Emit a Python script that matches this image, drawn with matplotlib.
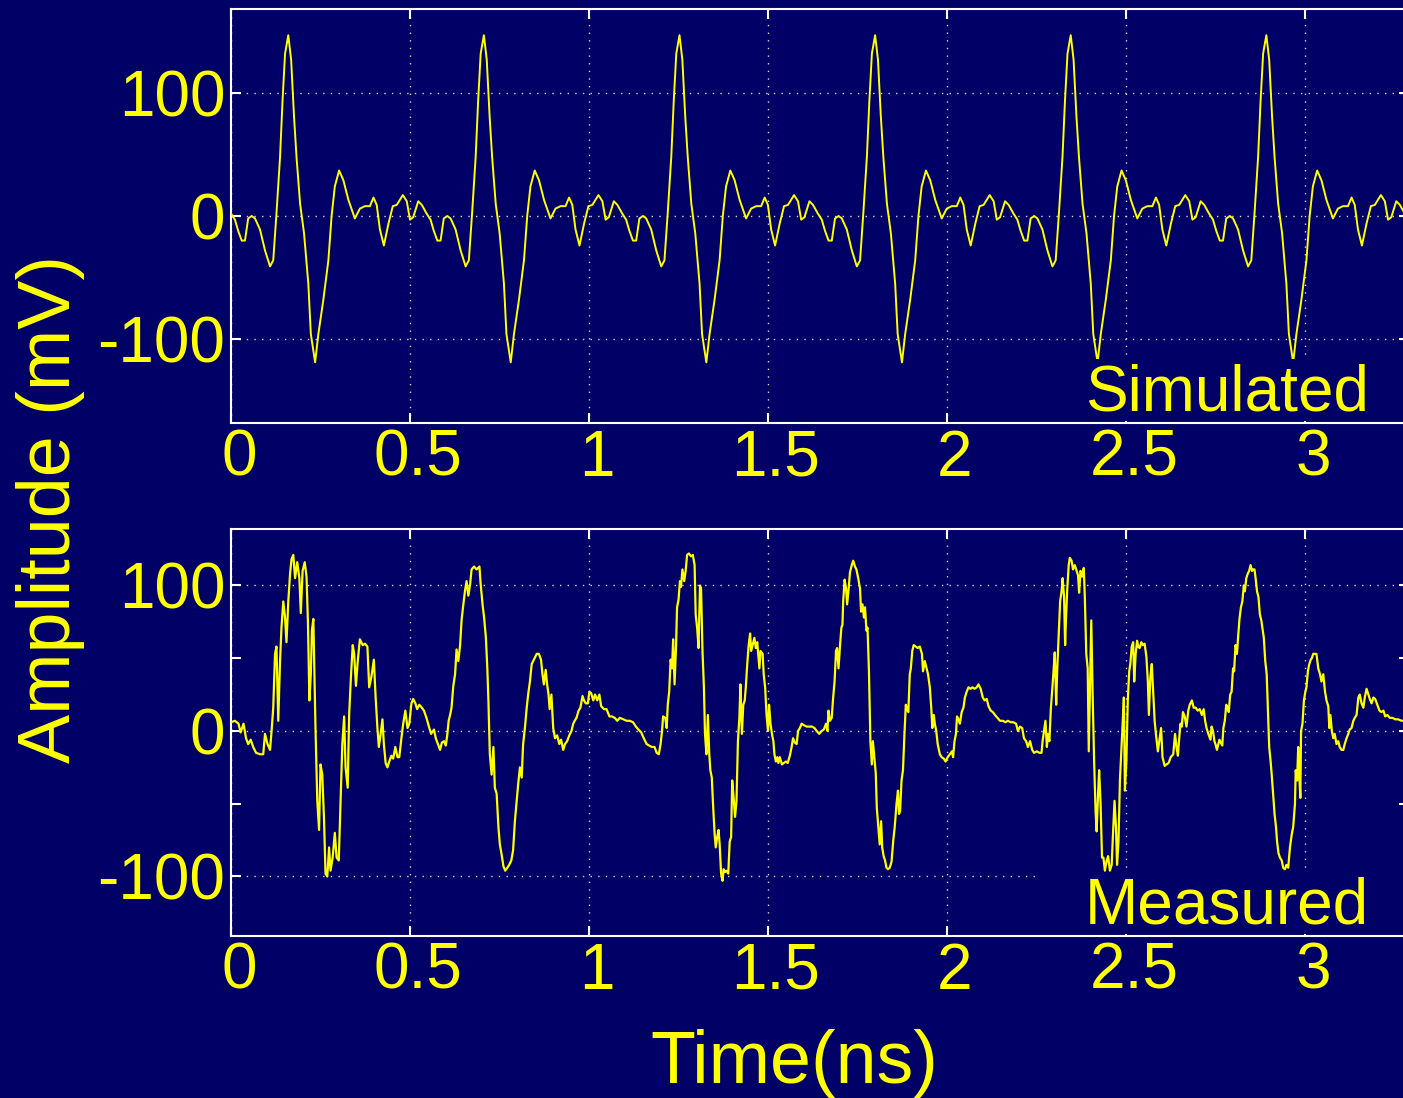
import numpy as np
import matplotlib
matplotlib.use("Agg")
import matplotlib.pyplot as plt
from matplotlib.transforms import ScaledTranslation
from matplotlib.patches import Rectangle

plt.rcParams['font.family'] = ['Liberation Sans', 'DejaVu Sans']

# ---------------- data ----------------
# Simulated: one period of the waveform (ns, mV), repeated with this period
sim_period = 0.5464
sim_cycle_t = [0.000, 0.011, 0.020, 0.030, 0.039, 0.048, 0.058, 0.067, 0.081, 0.095,
               0.109, 0.118, 0.127, 0.137, 0.144, 0.151, 0.160, 0.168, 0.176, 0.183,
               0.193, 0.204, 0.216, 0.223, 0.235, 0.244, 0.258, 0.272, 0.281, 0.290,
               0.302, 0.314, 0.328, 0.346, 0.360, 0.374, 0.388, 0.398, 0.407, 0.416,
               0.427, 0.440, 0.452, 0.463, 0.480, 0.491, 0.500, 0.509, 0.523, 0.533]
sim_cycle_v = [2, -3, -12, -20, -20, -2, 0, -2, -11, -28,
               -41, -36, 2, 48, 94, 132, 147, 127, 81, 48,
               10, -14, -55, -96, -119, -96, -68, -36, 0, 24,
               37, 29, 13, -2, 6, 8, 8, 15, 9, -11,
               -24, -6, 8, 9, 17, 12, -3, -1, 12, 9]

# Measured waveform (ns, mV)
meas_t = [0.000, 0.011, 0.021, 0.027, 0.035, 0.042, 0.048, 0.055, 0.062, 0.070,
          0.081, 0.090, 0.095, 0.102, 0.109, 0.114, 0.118, 0.123, 0.127, 0.132,
          0.137, 0.141, 0.146, 0.151, 0.155, 0.160, 0.165, 0.169, 0.174, 0.179,
          0.185, 0.191, 0.195, 0.200, 0.206, 0.211, 0.215, 0.219, 0.223, 0.226,
          0.230, 0.236, 0.241, 0.246, 0.250, 0.255, 0.260, 0.264, 0.269, 0.274,
          0.278, 0.284, 0.290, 0.295, 0.301, 0.306, 0.311, 0.316, 0.320, 0.326,
          0.330, 0.335, 0.340, 0.344, 0.349, 0.354, 0.360, 0.368, 0.374, 0.381,
          0.386, 0.392, 0.399, 0.404, 0.409, 0.413, 0.418, 0.423, 0.427, 0.432,
          0.437, 0.442, 0.448, 0.453, 0.459, 0.465, 0.470, 0.476, 0.481, 0.487,
          0.493, 0.498, 0.504, 0.509, 0.515, 0.520, 0.526, 0.533, 0.539, 0.546,
          0.554, 0.559, 0.567, 0.572, 0.578, 0.584, 0.589, 0.595, 0.600, 0.604,
          0.608, 0.612, 0.616, 0.621, 0.626, 0.630, 0.635, 0.640, 0.644, 0.649,
          0.654, 0.658, 0.663, 0.668, 0.672, 0.679, 0.686, 0.694, 0.697, 0.703,
          0.707, 0.712, 0.716, 0.719, 0.723, 0.728, 0.733, 0.737, 0.742, 0.747,
          0.751, 0.756, 0.761, 0.766, 0.772, 0.777, 0.783, 0.788, 0.793, 0.798,
          0.802, 0.807, 0.812, 0.816, 0.821, 0.826, 0.830, 0.835, 0.840, 0.846,
          0.854, 0.860, 0.866, 0.870, 0.874, 0.879, 0.883, 0.887, 0.890, 0.895,
          0.900, 0.905, 0.911, 0.917, 0.922, 0.928, 0.933, 0.939, 0.945, 0.951,
          0.956, 0.960, 0.965, 0.971, 0.976, 0.982, 0.986, 0.991, 0.997, 1.001,
          1.006, 1.012, 1.017, 1.023, 1.029, 1.034, 1.042, 1.049, 1.057, 1.064,
          1.072, 1.079, 1.086, 1.096, 1.105, 1.114, 1.123, 1.131, 1.138, 1.146,
          1.153, 1.161, 1.168, 1.175, 1.183, 1.189, 1.195, 1.200, 1.204, 1.207,
          1.213, 1.217, 1.220, 1.224, 1.228, 1.232, 1.235, 1.239, 1.243, 1.246,
          1.250, 1.254, 1.257, 1.261, 1.266, 1.270, 1.274, 1.279, 1.285, 1.290,
          1.295, 1.298, 1.302, 1.306, 1.310, 1.313, 1.317, 1.321, 1.324, 1.328,
          1.332, 1.336, 1.339, 1.343, 1.347, 1.351, 1.354, 1.358, 1.362, 1.365,
          1.369, 1.373, 1.376, 1.380, 1.384, 1.389, 1.393, 1.397, 1.400, 1.403,
          1.408, 1.412, 1.416, 1.420, 1.423, 1.427, 1.431, 1.435, 1.438, 1.442,
          1.446, 1.450, 1.453, 1.457, 1.462, 1.466, 1.470, 1.476, 1.479, 1.485,
          1.488, 1.492, 1.496, 1.500, 1.503, 1.507, 1.511, 1.515, 1.518, 1.522,
          1.526, 1.529, 1.533, 1.539, 1.544, 1.550, 1.555, 1.561, 1.566, 1.570,
          1.575, 1.580, 1.584, 1.589, 1.594, 1.600, 1.608, 1.615, 1.623, 1.630,
          1.636, 1.643, 1.650, 1.656, 1.662, 1.666, 1.669, 1.673, 1.678, 1.682,
          1.686, 1.690, 1.693, 1.697, 1.701, 1.705, 1.708, 1.710, 1.714, 1.718,
          1.721, 1.725, 1.729, 1.734, 1.738, 1.743, 1.747, 1.752, 1.757, 1.760,
          1.764, 1.768, 1.771, 1.775, 1.778, 1.782, 1.786, 1.790, 1.793, 1.797,
          1.801, 1.804, 1.808, 1.812, 1.816, 1.819, 1.823, 1.827, 1.831, 1.835,
          1.840, 1.845, 1.850, 1.854, 1.859, 1.863, 1.866, 1.869, 1.873, 1.877,
          1.881, 1.885, 1.888, 1.892, 1.896, 1.899, 1.903, 1.907, 1.913, 1.918,
          1.924, 1.930, 1.933, 1.938, 1.943, 1.947, 1.952, 1.956, 1.959, 1.963,
          1.966, 1.970, 1.974, 1.980, 1.985, 1.991, 1.996, 2.002, 2.008, 2.014,
          2.017, 2.021, 2.025, 2.028, 2.032, 2.036, 2.041, 2.046, 2.050, 2.055,
          2.060, 2.066, 2.071, 2.077, 2.083, 2.088, 2.094, 2.100, 2.105, 2.111,
          2.116, 2.122, 2.128, 2.134, 2.141, 2.148, 2.156, 2.163, 2.170, 2.178,
          2.185, 2.193, 2.198, 2.204, 2.210, 2.215, 2.221, 2.226, 2.232, 2.238,
          2.243, 2.251, 2.258, 2.264, 2.267, 2.271, 2.275, 2.279, 2.282, 2.286,
          2.290, 2.293, 2.297, 2.301, 2.305, 2.308, 2.312, 2.316, 2.320, 2.323,
          2.327, 2.330, 2.332, 2.336, 2.340, 2.343, 2.348, 2.352, 2.357, 2.362,
          2.366, 2.369, 2.373, 2.378, 2.382, 2.385, 2.389, 2.393, 2.396, 2.400,
          2.403, 2.407, 2.411, 2.415, 2.418, 2.422, 2.425, 2.429, 2.433, 2.437,
          2.441, 2.446, 2.450, 2.455, 2.460, 2.464, 2.468, 2.472, 2.475, 2.479,
          2.483, 2.486, 2.490, 2.494, 2.497, 2.501, 2.505, 2.509, 2.512, 2.516,
          2.520, 2.523, 2.527, 2.531, 2.534, 2.538, 2.543, 2.547, 2.552, 2.557,
          2.561, 2.564, 2.568, 2.572, 2.577, 2.580, 2.584, 2.589, 2.593, 2.598,
          2.602, 2.608, 2.613, 2.619, 2.625, 2.632, 2.637, 2.641, 2.645, 2.648,
          2.652, 2.656, 2.659, 2.664, 2.669, 2.674, 2.678, 2.684, 2.689, 2.695,
          2.700, 2.706, 2.712, 2.717, 2.721, 2.725, 2.730, 2.736, 2.739, 2.743,
          2.747, 2.751, 2.754, 2.758, 2.761, 2.765, 2.769, 2.772, 2.776, 2.780,
          2.784, 2.787, 2.791, 2.795, 2.799, 2.802, 2.806, 2.810, 2.813, 2.817,
          2.821, 2.825, 2.829, 2.832, 2.836, 2.840, 2.844, 2.848, 2.852, 2.855,
          2.859, 2.863, 2.866, 2.870, 2.874, 2.878, 2.881, 2.885, 2.889, 2.893,
          2.896, 2.900, 2.904, 2.907, 2.911, 2.915, 2.919, 2.922, 2.926, 2.930,
          2.935, 2.939, 2.944, 2.948, 2.953, 2.958, 2.963, 2.967, 2.972, 2.974,
          2.978, 2.981, 2.984, 2.987, 2.989, 2.993, 2.997, 3.001, 3.004, 3.008,
          3.012, 3.016, 3.019, 3.023, 3.028, 3.032, 3.037, 3.042, 3.046, 3.051,
          3.056, 3.060, 3.065, 3.068, 3.071, 3.075, 3.079, 3.083, 3.088, 3.093,
          3.097, 3.102, 3.107, 3.111, 3.116, 3.121, 3.125, 3.130, 3.135, 3.139,
          3.144, 3.149, 3.153, 3.158, 3.163, 3.167, 3.172, 3.177, 3.181, 3.186,
          3.191, 3.196, 3.202, 3.208, 3.213, 3.219, 3.224, 3.230, 3.237, 3.245,
          3.252, 3.260, 3.270, 3.290]
meas_v = [6, 7, 5, -1, 5, -5, -9, -6, -11, -15,
          -16, -16, -2, -9, -13, 2, 16, 53, 58, 7,
          48, 71, 89, 78, 61, 89, 108, 118, 121, 105,
          116, 105, 81, 110, 116, 106, 74, 21, 39, 69,
          77, 2, -48, -68, -23, -30, -62, -98, -100, -80,
          -96, -87, -70, -87, -89, -48, -9, 10, -25, -39,
          11, 37, 59, 53, 31, 48, 63, 59, 60, 58,
          30, 37, 49, 23, 2, -11, -2, 8, -9, -22,
          -25, -21, -17, -19, -11, -18, -18, -5, 5, 14,
          2, 5, 19, 22, 19, 15, 18, 16, 14, 9,
          2, -2, 1, -5, -9, -13, -8, -7, -10, -3,
          7, 11, 16, 31, 39, 56, 48, 59, 76, 87,
          97, 103, 93, 101, 111, 113, 111, 113, 102, 86,
          78, 64, 43, 21, -16, -30, -11, -39, -43, -66,
          -78, -85, -93, -96, -94, -92, -89, -82, -62, -48,
          -37, -25, -32, -9, 2, 16, 25, 34, 46, 49,
          53, 53, 49, 39, 32, 42, 32, 25, 15, 25,
          2, -5, -3, -9, -6, -13, -9, -7, -3, 0,
          5, 7, 9, 14, 16, 24, 21, 19, 19, 27,
          26, 21, 25, 21, 25, 17, 15, 15, 10, 10,
          9, 7, 9, 8, 7, 7, 6, 3, 1, -1,
          -5, -9, -10, -11, -11, -15, -16, -9, 0, 10,
          9, 2, 18, 27, 49, 43, 63, 32, 57, 85,
          90, 103, 99, 111, 103, 110, 121, 122, 120, 121,
          114, 80, 71, 57, 100, 98, 55, 30, -2, -16,
          11, -16, -27, -32, -53, -71, -80, -73, -68, -78,
          -98, -103, -95, -97, -96, -98, -76, -73, -34, -43,
          -59, -48, -7, 9, 32, -2, 18, 21, 30, 46,
          59, 67, 55, 59, 64, 57, 61, 43, 55, 53,
          39, 30, 11, 0, 18, 5, -2, -7, -16, -21,
          -18, -22, -18, -23, -22, -21, -22, -17, -11, -5,
          -8, -9, 0, 2, 5, 4, 3, 3, 3, 2,
          0, -2, 0, 1, 5, 0, 14, 7, 9, 23,
          34, 55, 57, 43, 58, 71, 73, 89, 104, 98,
          87, 97, 109, 114, 117, 113, 111, 105, 98, 82,
          87, 78, 85, 69, 71, 41, -7, -23, -7, -18,
          -29, -53, -66, -78, -62, -80, -86, -89, -94, -95,
          -94, -90, -75, -66, -50, -41, -57, -55, -34, -27,
          -3, 18, 15, 13, 39, 43, 55, 59, 58, 57,
          58, 53, 41, 48, 43, 39, 30, 16, 2, 11,
          5, 0, -9, -16, -18, -19, -21, -18, -16, -14,
          -18, -7, -2, 10, 8, 5, 13, 16, 23, 27,
          30, 29, 30, 29, 30, 32, 29, 23, 21, 22,
          17, 14, 13, 11, 9, 7, 7, 6, 7, 6,
          6, 5, 0, 3, 2, -5, -7, -11, -7, -13,
          -15, -14, -15, -15, -7, 0, 7, -11, -2, -7,
          15, 25, 39, 54, 18, 43, 66, 89, 96, 105,
          92, 59, 75, 98, 114, 119, 117, 111, 114, 110,
          107, 95, 110, 106, 112, 92, 53, 43, -14, 37,
          76, 23, -21, -55, -69, -43, -27, -50, -87, -87,
          -96, -89, -86, -96, -92, -69, -48, -66, -92, -76,
          -34, -18, 2, 23, -41, -21, 21, 41, 46, 58,
          61, 34, 53, 62, 58, 57, 61, 59, 60, 51,
          34, 11, 37, 46, 21, 7, -3, -14, -7, 2,
          -18, -24, -23, -22, -18, -16, -2, -11, -17, -7,
          5, 3, 13, 10, 3, 14, 18, 21, 16, 16,
          14, 15, 11, 15, 7, 2, -2, -6, 3, 0,
          -7, -10, -13, -9, -6, -8, -10, 2, 7, 18,
          16, 13, 25, 27, 43, 41, 59, 53, 64, 77,
          85, 89, 100, 96, 105, 108, 110, 114, 110, 111,
          111, 103, 96, 92, 80, 76, 71, 64, 48, 39,
          18, -11, -21, -30, -43, -57, -66, -76, -84, -87,
          -89, -94, -95, -92, -94, -80, -71, -66, -50, -27,
          -34, -11, -30, -46, 0, 5, 21, 27, 30, 41,
          46, 49, 50, 53, 53, 53, 43, 39, 34, 39,
          27, 21, 17, 2, 11, 0, -5, -2, -9, -7,
          -11, -13, -13, -9, -5, -2, 1, 2, 7, 9,
          11, 23, 25, 19, 16, 23, 29, 25, 22, 19,
          23, 22, 18, 14, 13, 14, 10, 11, 9, 9,
          8, 8, 7, 7]

x_ticks = [0, 0.5, 1, 1.5, 2, 2.5, 3]
x_tick_labels = ["0", "0.5", "1", "1.5", "2", "2.5", "3"]
y_ticks = [-100, 0, 100]
y_tick_labels = ["-100", "0", "100"]
y_minor_ticks_meas = [-50, 50]

# ---------------- build simulated series from its period ----------------
n_cycles = 7
sim_t = np.concatenate([np.array(sim_cycle_t) + k * sim_period for k in range(n_cycles)])
sim_v = np.tile(np.array(sim_cycle_v, dtype=float), n_cycles)

# ---------------- style ----------------
BG = '#000066'
YEL = '#FFFF00'
WHITE = '#FFFFFF'
GRID = '#D8D8D8'

W, H = 1403, 1098
fig = plt.figure(figsize=(W / 100, H / 100), dpi=100, facecolor=BG)

x_px0 = 231
px_per_ns = 358
x_max = 3.29
ax_w = x_max * px_per_ns / W
left = x_px0 / W

ax1 = fig.add_axes([left, 1 - 423 / H, ax_w, (423 - 9) / H])
ax2 = fig.add_axes([left, 1 - 936 / H, ax_w, (936 - 529) / H])


def style(ax):
    ax.set_facecolor(BG)
    for s in ax.spines.values():
        s.set_color(WHITE)
        s.set_linewidth(1.5)
    ax.set_axisbelow(True)
    ax.grid(True, which='major', color=GRID, linestyle=(0, (1, 4.5)), linewidth=1.0)
    ax.tick_params(which='both', direction='in', length=7.5, width=1.5, color=WHITE,
                   labelcolor=YEL, labelsize=46, pad=4,
                   top=True, right=True, bottom=True, left=True)
    ax.set_xlim(0, x_max)
    ax.set_xticks(x_ticks, x_tick_labels)
    ax.set_yticks(y_ticks, y_tick_labels)
    off = ScaledTranslation(8 / 100, 0, fig.dpi_scale_trans)
    for lab in ax.get_xticklabels():
        lab.set_transform(lab.get_transform() + off)


style(ax1)
style(ax2)

ax1.set_ylim(-168.3, 168.3)
ax2.set_ylim(-140.9, 138.8)
ax2.set_yticks(y_minor_ticks_meas, minor=True)
ax2.tick_params(which='minor', direction='in', length=7.5, width=1.5, color=WHITE,
                left=True, right=True)

ax1.plot(sim_t, sim_v, color=YEL, linewidth=1.4, zorder=3)
ax2.plot(meas_t, meas_v, color=YEL, linewidth=1.6, zorder=3)

# label boxes (background patches that hide grid and trace behind the labels)
for ax, label in ((ax1, "Simulated"), (ax2, "Measured")):
    ax.add_patch(Rectangle((0.688, 0.006), 0.32, 0.149, transform=ax.transAxes,
                           facecolor=BG, edgecolor='none', zorder=3.5))
    ax.text(0.966, 0.031, label, transform=ax.transAxes, ha='right',
            va='baseline', color=YEL, fontsize=46, zorder=4)

fig.text(794 / W, (H - 1083) / H, "Time(ns)", ha='center', va='baseline',
         color=YEL, fontsize=53)
fig.text(51 / W, 1 - 509 / H, "Amplitude (mV)", ha='center', va='center',
         rotation=90, color=YEL, fontsize=53)

fig.savefig("out.png", dpi=100, facecolor=BG)
